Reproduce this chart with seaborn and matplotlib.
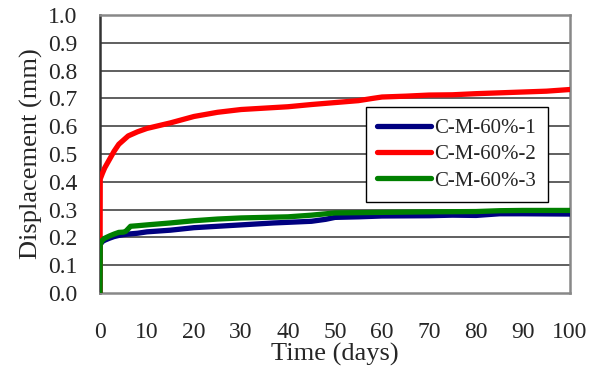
import matplotlib
matplotlib.use("Agg")
import matplotlib.pyplot as plt
import seaborn as sns
import pandas as pd

# ---- data ----
series_names = ["C-M-60%-1", "C-M-60%-2", "C-M-60%-3"]

t_1 = [0, 0.05, 0.5, 1, 2, 3, 4, 5, 6, 8, 10, 15, 20, 25, 30, 37, 45, 48, 50, 55, 60, 70, 75, 80, 85, 90, 100]
d_1 = [0, 0.175, 0.185, 0.19, 0.197, 0.203, 0.207, 0.21, 0.212, 0.215, 0.22, 0.226, 0.235, 0.24, 0.245,
       0.252, 0.258, 0.265, 0.272, 0.274, 0.277, 0.278, 0.28, 0.279, 0.285, 0.285, 0.284]

t_2 = [0, 0.05, 0.5, 1, 2, 3, 4, 5, 6, 8, 10, 15, 20, 25, 30, 35, 40, 45, 50, 55, 58, 60, 65, 70, 75, 80,
       85, 90, 95, 100]
d_2 = [0, 0.41, 0.43, 0.45, 0.48, 0.51, 0.535, 0.55, 0.565, 0.58, 0.592, 0.612, 0.635, 0.65, 0.66, 0.665,
       0.67, 0.678, 0.685, 0.692, 0.70, 0.705, 0.708, 0.712, 0.713, 0.717, 0.72, 0.723, 0.726, 0.732]

t_3 = [0, 0.05, 0.5, 1, 2, 3, 4, 5, 5.5, 6.5, 8, 10, 15, 20, 25, 30, 40, 45, 50, 60, 70, 80, 85, 90, 100]
d_3 = [0, 0.175, 0.19, 0.197, 0.205, 0.212, 0.218, 0.219, 0.222, 0.24, 0.242, 0.245, 0.252, 0.26, 0.266,
       0.27, 0.274, 0.28, 0.288, 0.29, 0.292, 0.293, 0.296, 0.297, 0.297]

x_ticks = [0, 10, 20, 30, 40, 50, 60, 70, 80, 90, 100]
y_ticks = [0.0, 0.1, 0.2, 0.3, 0.4, 0.5, 0.6, 0.7, 0.8, 0.9, 1.0]
colors = ["#000080", "#FF0000", "#008000"]

frames = []
for name, t, d in zip(series_names, [t_1, t_2, t_3], [d_1, d_2, d_3]):
    frames.append(pd.DataFrame({"Time": t, "Disp": d, "Series": name}))
df = pd.concat(frames, ignore_index=True)

sns.set_style("white")
plt.rcParams["font.family"] = ["Liberation Serif", "DejaVu Serif"]

fig = plt.figure(figsize=(6.03, 3.75), dpi=100)
ax = fig.add_axes([100 / 603, 1 - 293 / 375, 470 / 603, 278 / 375])

for yv in y_ticks[1:-1]:
    ax.axhline(yv, color="#444444", lw=1.2, zorder=1)

sns.lineplot(data=df, x="Time", y="Disp", hue="Series", palette=colors, hue_order=series_names,
             estimator=None, sort=False, lw=3.8, ax=ax, zorder=3)

ax.set_xlim(0, 100)
ax.set_ylim(0, 1.0)
ax.set_xticks(x_ticks)
ax.set_yticks(y_ticks)
ax.set_xticklabels([str(v) for v in x_ticks])
ax.set_yticklabels([f"{v:.1f}" for v in y_ticks])
ax.tick_params(axis="x", length=0, pad=21, labelsize=17)
ax.tick_params(axis="y", length=0, pad=16, labelsize=17)
ax.set_xlabel("Time (days)", fontsize=19, labelpad=0)
ax.set_ylabel("Displacement (mm)", fontsize=19, labelpad=4)

for side in ["top", "right", "bottom"]:
    ax.spines[side].set_color("#888888")
    ax.spines[side].set_linewidth(1.8)
ax.spines["left"].set_color("#333333")
ax.spines["left"].set_linewidth(1.8)

leg = ax.legend(loc="upper right", bbox_to_anchor=(0.953, 0.669), fontsize=15, frameon=True,
                fancybox=False, edgecolor="black", framealpha=1, handlelength=2.6,
                handletextpad=0.15, borderpad=0.55, labelspacing=0.32, borderaxespad=0)
leg.get_frame().set_linewidth(1.0)
for line in leg.get_lines():
    line.set_linewidth(3.8)

fig.savefig("out.png", dpi=100)
